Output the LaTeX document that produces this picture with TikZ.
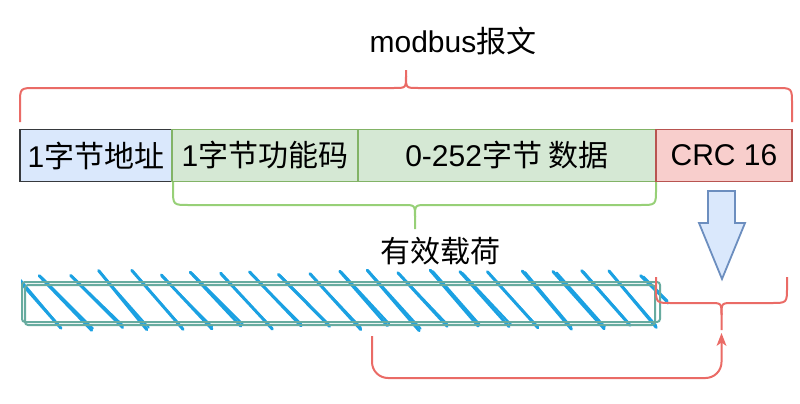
\documentclass[tikz,border=0pt]{standalone}
\usepackage{fontspec}
\setmainfont{Liberation Sans}
\newfontfamily\cjk{Noto Sans CJK SC}
\usetikzlibrary{arrows.meta}
\definecolor{bluefill}{HTML}{DAE8FC}
\definecolor{bluedraw}{HTML}{6C8EBF}
\definecolor{greenfill}{HTML}{D5E8D4}
\definecolor{greendraw}{HTML}{82B366}
\definecolor{redfill}{HTML}{F8CECC}
\definecolor{reddraw}{HTML}{B85450}
\definecolor{bracered}{HTML}{EA6B66}
\definecolor{bracegreen}{HTML}{97D077}
\definecolor{darkedge}{HTML}{36393D}
\definecolor{sketchedge}{HTML}{67AB9F}
\definecolor{hatchblue}{HTML}{1BA1E2}
\newcommand\curlyb[8]{%
  \draw[#8] (#1,#4) -- (#1,{#5-#7*16}) .. controls (#1,#5) .. ({#1+16},#5) -- ({#3-12},#5) .. controls (#3,#5) .. (#3,{#5+#7*12}) -- (#3,#6);
  \draw[#8] (#2,#4) -- (#2,{#5-#7*16}) .. controls (#2,#5) .. ({#2-16},#5) -- ({#3+12},#5) .. controls (#3,#5) .. (#3,{#5+#7*12});
}
\begin{document}
\begin{tikzpicture}[x=1pt,y=-1pt,
  box/.style={draw, line width=1.5pt, minimum height=52pt, inner sep=0pt, font=\fontsize{30}{36}\selectfont},
  label/.style={inner sep=0pt, font=\fontsize{30}{36}\selectfont},
  bracer/.style={draw=bracered, line width=2pt},
  braceg/.style={draw=bracegreen, line width=2pt},
  sketch/.style={draw=sketchedge, line width=2pt, rounded corners=3pt},
  hatch/.style={draw=hatchblue, line width=3pt, line cap=round},
  bigarrow/.style={draw=bluedraw, fill=bluefill, line width=1.8pt, line join=miter},
  conn/.style={draw=bracered, line width=2pt},
  tiphead/.style={fill=bracered}]
\useasboundingbox (0,0) rectangle (800,404);
\pgfmathsetseed{42}

% title and top brace
\node[label] (title) at (453,41) {modbus{\cjk 报文}};
\curlyb{20}{792}{406}{122}{88}{70}{-1}{bracer}

% frame boxes
\node[box, draw=darkedge, fill=bluefill, minimum width=152pt] (addr) at (96,155.5) {1{\cjk 字节地址}};
\node[box, draw=greendraw, fill=greenfill, minimum width=186pt] (func) at (265,155.5) {1{\cjk 字节功能码}};
\node[box, draw=greendraw, fill=greenfill, minimum width=298pt] (data) at (507,155.5) {0-252{\cjk 字节 数据}};
\node[box, draw=reddraw, fill=redfill, minimum width=136pt] (crc) at (724,155.5) {CRC 16};

% payload brace
\curlyb{173}{656}{415}{182}{205}{229}{1}{braceg}
\node[label] (payload) at (440,251) {{\cjk 有效载荷}};

% big down arrow
\draw[bigarrow] (708,191) -- (735,191) -- (735,223) -- (745,223) -- (722,279) -- (699,223) -- (708,223) -- cycle;

% hatched sketch bar
\begin{scope}
  \clip (21,268) rectangle (668,334);
  \foreach \i in {0,...,21} {
    \pgfmathsetmacro\xa{10+30*\i+3*rand}
    \pgfmathsetmacro\ya{273+3*rand}
    \pgfmathsetmacro\xb{\xa+50+3*rand}
    \pgfmathsetmacro\yb{328+3*rand}
    \draw[hatch] (\xa,\ya) -- (\xb,\yb);
    \pgfmathsetmacro\xc{\xa+2+2*rand}
    \pgfmathsetmacro\xd{\xb+2*rand}
    \draw[hatch, line width=2pt] (\xc,{\ya+1}) -- (\xd,{\yb-2});
  }
\end{scope}
\draw[sketch] (22,282) rectangle (660,322);
\draw[sketch] (25,285) rectangle (655,325);

% CRC brace
\curlyb{656}{787}{721.5}{277}{303}{330}{1}{bracer}

% connector from payload to CRC brace
\coordinate (bstart) at (372,336);
\coordinate (bcorner) at (372,378);
\coordinate (rtip) at (721.5,333);
\coordinate (rpre) at (721.5,342);
\draw[conn, rounded corners=16pt] (bstart) -- (bcorner) -| (rpre);
\fill[tiphead] (rtip) -- (726.5,346) -- (721.5,342.5) -- (716.5,346) -- cycle;
\end{tikzpicture}
\end{document}
